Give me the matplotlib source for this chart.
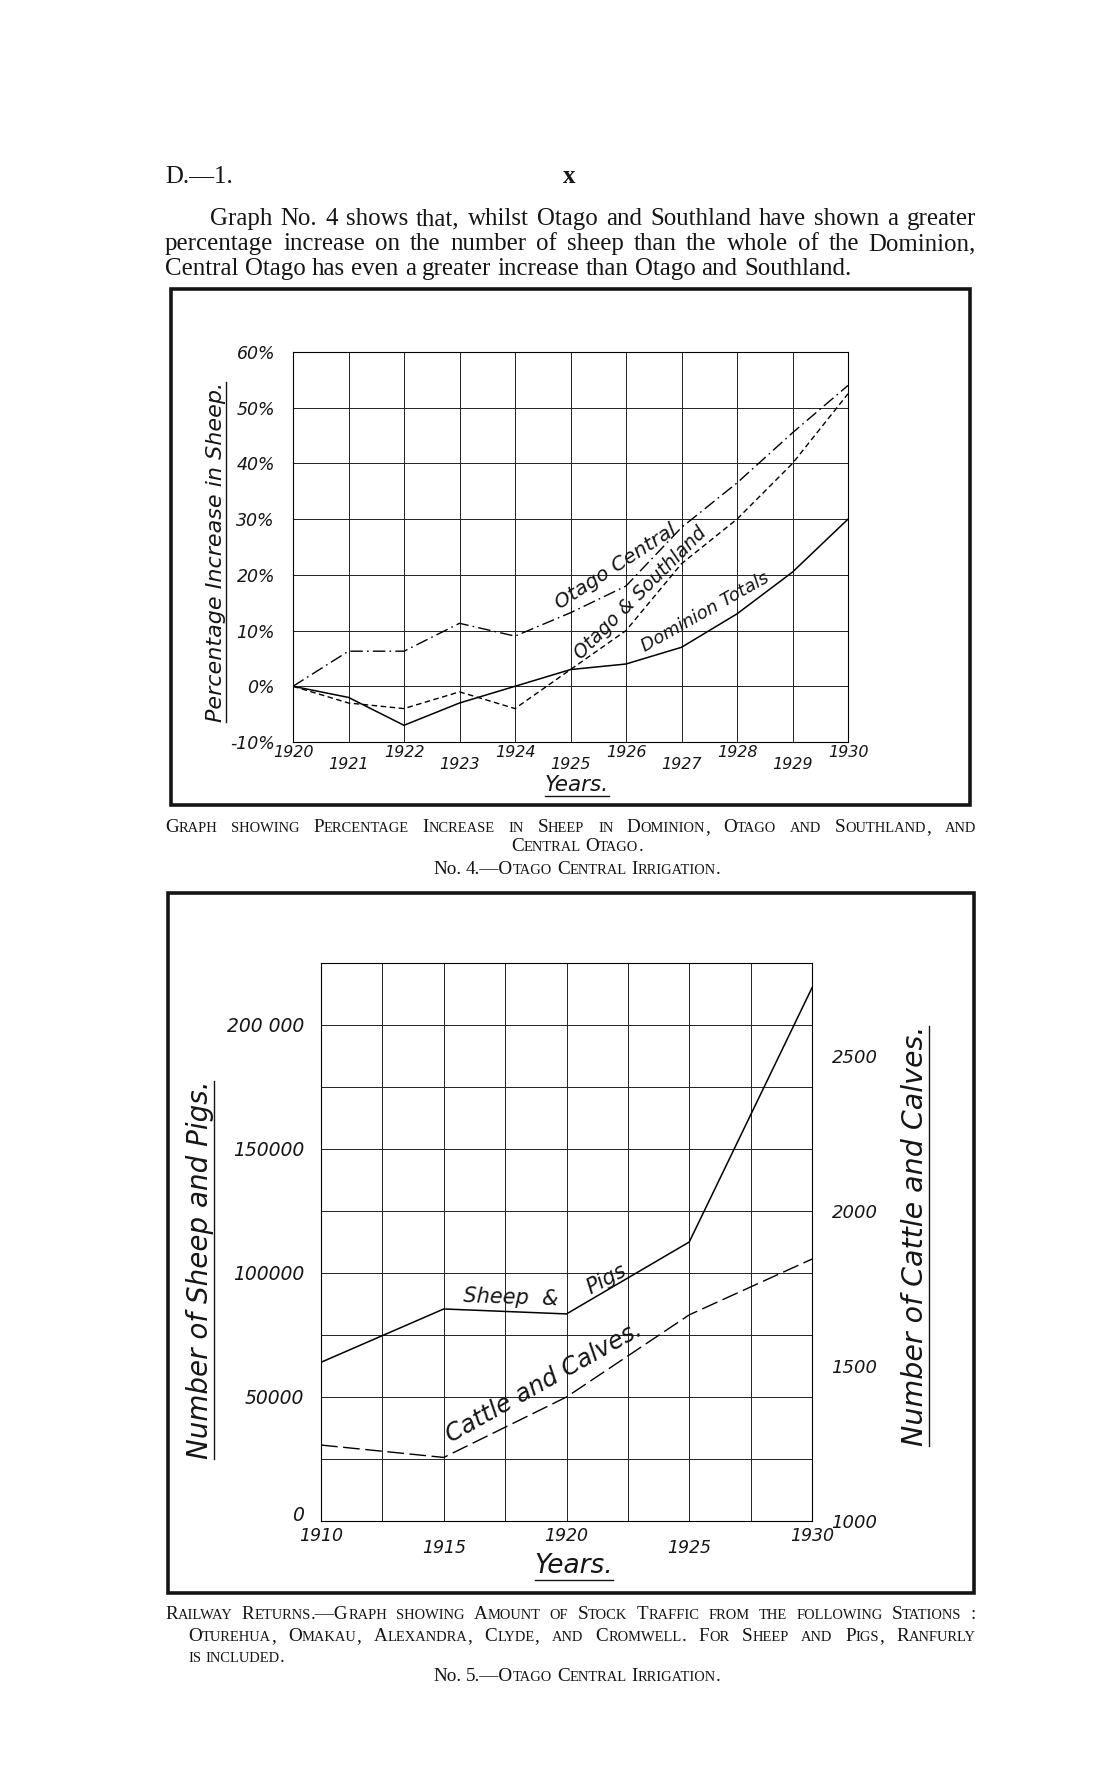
import numpy as np
import matplotlib
matplotlib.use("Agg")
import matplotlib.pyplot as plt
from matplotlib.font_manager import FontProperties
from matplotlib.patches import Rectangle
from matplotlib.lines import Line2D

# Graph No. 4 - percentage increase in sheep
years4 = [1920, 1921, 1922, 1923, 1924, 1925, 1926, 1927, 1928, 1929, 1930]
dominion = [0, -2, -7, -3, 0, 3, 4, 7, 13, 20.5, 30]
otago_southland = [0, -3, -4, -1, -4, 3, 10, 22, 30, 40, 52.5]
otago_central = [0, 6.3, 6.3, 11.3, 9, 13.2, 18, 28.5, 36.5, 45.5, 54]
pct_ticks = [-10, 0, 10, 20, 30, 40, 50, 60]

# Graph No. 5 - stock traffic, railway returns
years5 = [1910, 1915, 1920, 1925, 1930]
sheep_pigs = [64000, 85500, 83500, 112500, 215000]
cattle_calves = [1245, 1205, 1400, 1665, 1845]
left_ticks = [0, 50000, 100000, 150000, 200000]
left_labels = ["0", "50000", "100000", "150000", "200 000"]
right_ticks = [1000, 1500, 2000, 2500]

W, H = 1114, 1780
fig = plt.figure(figsize=(W / 100, H / 100), dpi=100)
page = fig.add_axes([0, 0, 1, 1])
page.set_xlim(0, W)
page.set_ylim(H, 0)
page.axis("off")
renderer = fig.canvas.get_renderer()

SERIF = "Liberation Serif"
HAND = dict(family="DejaVu Sans", style="oblique")
INK = "#151515"


def px_axes(l, t, r, b):
    return fig.add_axes([l / W, 1 - b / H, (r - l) / W, (b - t) / H])


def measure(s, size):
    fp = FontProperties(family=SERIF, size=size)
    return renderer.get_text_width_height_descent(s, fp, ismath=False)[0]


def pieces_of(word, size, caps):
    # small capitals: lower case letters set as smaller capitals
    if not caps or word == "No.":
        return [(word, size)]
    out = []
    for ch in word:
        small = ch.islower()
        c = ch.upper() if small else ch
        sz = size * 0.76 if small else size
        if out and out[-1][1] == sz:
            out[-1] = (out[-1][0] + c, sz)
        else:
            out.append((c, sz))
    return out


def space_of(size):
    return measure("a a", size) - measure("aa", size)


def natural(s, size, caps=False):
    words = [pieces_of(w, size, caps) for w in s.split()]
    return sum(measure(p, z) for w in words for p, z in w) + space_of(size) * (len(words) - 1)


def text_line(s, y, x0=None, x1=None, cx=None, size=15, caps=False):
    words = [pieces_of(w, size, caps) for w in s.split()]
    widths = [sum(measure(p, z) for p, z in w) for w in words]
    gap = space_of(size)
    if x0 is not None and x1 is not None:
        gap = (x1 - x0 - sum(widths)) / (len(words) - 1)
    if cx is not None:
        x0 = cx - (sum(widths) + gap * (len(words) - 1)) / 2
    x = x0
    for w, wd in zip(words, widths):
        xx = x
        for p, z in w:
            page.text(xx, y, p, fontsize=z, family=SERIF, ha="left",
                      va="baseline", color=INK)
            xx += measure(p, z)
        x += wd + gap


def underline(t, side="below", gap=2, lw=1.0):
    bb = t.get_window_extent(renderer)
    inv = page.transData.inverted()
    (xa, ya), (xb, yb) = inv.transform([(bb.x0, bb.y0), (bb.x1, bb.y1)])
    if side == "below":
        yy = max(ya, yb) + gap
        page.add_line(Line2D([xa, xb], [yy, yy], color=INK, lw=lw))
    else:
        xx = max(xa, xb) + gap
        page.add_line(Line2D([xx, xx], [ya, yb], color=INK, lw=lw))


# page header and paragraph
para3 = "Central Otago has even a greater increase than Otago and Southland."
psize = 16 * (852 - 165) / natural(para3, 16)
page.text(165, 183, "D.\u20141.", fontsize=psize, family=SERIF, va="baseline", color=INK)
page.text(569, 183, "x", fontsize=psize, family=SERIF, weight="bold", ha="center",
          va="baseline", color=INK)
text_line("Graph No. 4 shows that, whilst Otago and Southland have shown a greater",
          225, x0=210, x1=976, size=psize)
text_line("percentage increase on the number of sheep than the whole of the Dominion,",
          250, x0=165, x1=976, size=psize)
text_line(para3, 275, x0=165, size=psize)

# frames
page.add_patch(Rectangle((171, 289), 970 - 171, 805 - 289, fill=False, lw=2.6, ec=INK))
page.add_patch(Rectangle((168, 893), 974 - 168, 1593 - 893, fill=False, lw=2.6, ec=INK))

# ---- Graph No. 4 ----
ax1 = px_axes(293, 352, 848, 742)
ax1.plot(years4, dominion, color="k", lw=1.1)
ax1.plot(years4, otago_southland, color="k", lw=1.0, ls=(0, (4, 2.5)))
ax1.plot(years4, otago_central, color="k", lw=1.0, ls=(0, (9, 3, 1.2, 3)))
ax1.set_xlim(1920, 1930)
ax1.set_ylim(-10, 60)
ax1.set_xticks(years4, [str(y) for y in years4])
ax1.set_yticks(pct_ticks, [f"{v}%" for v in pct_ticks])
ax1.grid(True, color="#222222", lw=0.7)
ax1.tick_params(length=0, labelsize=11.5, colors=INK)
ax1.tick_params(axis="y", pad=13, labelsize=12.5)
for i, tk in enumerate(ax1.xaxis.get_major_ticks()):
    tk.set_pad(2 if i % 2 == 0 else 11)
for lab in ax1.get_xticklabels() + ax1.get_yticklabels():
    lab.set(**HAND)
for s in ax1.spines.values():
    s.set_linewidth(0.8)

ax1.text(1924.8, 13.7, "Otago Central", rotation=33, rotation_mode="anchor",
         ha="left", va="baseline", fontsize=14.5, color=INK, **HAND)
ax1.text(1925.2, 4.7, "Otago & Southland", rotation=45, rotation_mode="anchor",
         ha="left", va="baseline", fontsize=13.5, color=INK, **HAND)
ax1.text(1926.34, 6.2, "Dominion Totals", rotation=29.5, rotation_mode="anchor",
         ha="left", va="baseline", fontsize=13, color=INK, **HAND)

t = page.text(216, 552, "Percentage Increase in Sheep.", rotation=90, ha="center",
              va="center", fontsize=16, color=INK, **HAND)
underline(t, "right", gap=0)
t = page.text(577, 785, "Years.", ha="center", va="center", fontsize=15.5, color=INK, **HAND)
underline(t, "below", gap=1)

csize = 13 * 287 / natural("No. 4.\u2014Otago Central Irrigation.", 13, True)
text_line("Graph showing Percentage Increase in Sheep in Dominion, Otago and Southland, and",
          832, x0=165, x1=976, size=csize, caps=True)
text_line("Central Otago.", 851, cx=577, size=csize, caps=True)
text_line("No. 4.\u2014Otago Central Irrigation.", 874, cx=577, size=csize, caps=True)

# ---- Graph No. 5 ----
ax2 = px_axes(321, 963, 812, 1521)
ax2.plot(years5, sheep_pigs, color="k", lw=1.1)
ax2.set_xlim(1910, 1930)
ax2.set_ylim(0, 225000)
xg = np.arange(1910, 1930.1, 2.5)
ax2.set_xticks(xg, [str(int(v)) if v in years5 else "" for v in xg])
yg = np.arange(0, 225001, 25000)
ax2.set_yticks(yg, [left_labels[left_ticks.index(v)] if v in left_ticks else "" for v in yg])
ax2.grid(True, color="#222222", lw=0.7)
ax2.tick_params(length=0, labelsize=12.5, colors=INK)
ax2.tick_params(axis="y", pad=12, labelsize=13.5)
for i, tk in enumerate(ax2.xaxis.get_major_ticks()):
    tk.set_pad(4 if i % 4 == 0 else 13)
ax2.yaxis.get_major_ticks()[0].label1.set_va("baseline")
for lab in ax2.get_xticklabels() + ax2.get_yticklabels():
    lab.set(**HAND)
for s in ax2.spines.values():
    s.set_linewidth(0.8)

ax2r = ax2.twinx()
ax2r.plot(years5, cattle_calves, color="k", lw=1.0, ls=(0, (12, 4)))
ax2r.set_ylim(1000, 2800)
ax2r.set_yticks(right_ticks, [str(v) for v in right_ticks])
ax2r.set_yticks([1500, 2500], minor=True)
ax2r.tick_params(axis="y", which="major", length=0, pad=14, labelsize=13, colors=INK)
ax2r.tick_params(axis="y", which="minor", length=6, width=0.8, direction="out")
for lab in ax2r.get_yticklabels():
    lab.set(**HAND)
for s in ax2r.spines.values():
    s.set_visible(False)

ax2.text(1915.8, 88500, "Sheep  &", rotation=-2, rotation_mode="anchor",
         ha="left", va="baseline", fontsize=15, color=INK, **HAND)
ax2.text(1920.96, 91500, "Pigs", rotation=28, rotation_mode="anchor",
         ha="left", va="baseline", fontsize=15, color=INK, **HAND)
ax2.text(1915.3, 31600, "Cattle and Calves.", rotation=29.5, rotation_mode="anchor",
         ha="left", va="baseline", fontsize=17.5, color=INK, **HAND)

t = page.text(200, 1270, "Number of Sheep and Pigs.", rotation=90, ha="center",
              va="center", fontsize=20, color=INK, **HAND)
underline(t, "right", gap=0)
t = page.text(915, 1236, "Number of Cattle and Calves.", rotation=90, ha="center",
              va="center", fontsize=20.5, color=INK, **HAND)
underline(t, "right", gap=0)
t = page.text(574, 1566, "Years.", ha="center", va="center", fontsize=19, color=INK, **HAND)
underline(t, "below", gap=1)

text_line("Railway Returns.\u2014Graph showing Amount of Stock Traffic from the following Stations :",
          1619, x0=165, x1=976, size=csize, caps=True)
text_line("Oturehua, Omakau, Alexandra, Clyde, and Cromwell. For Sheep and Pigs, Ranfurly",
          1641, x0=188, x1=976, size=csize, caps=True)
text_line("is included.", 1662, x0=188, size=csize, caps=True)
text_line("No. 5.\u2014Otago Central Irrigation.", 1681, cx=577, size=csize, caps=True)

fig.savefig("out.png", dpi=100, facecolor="white")
